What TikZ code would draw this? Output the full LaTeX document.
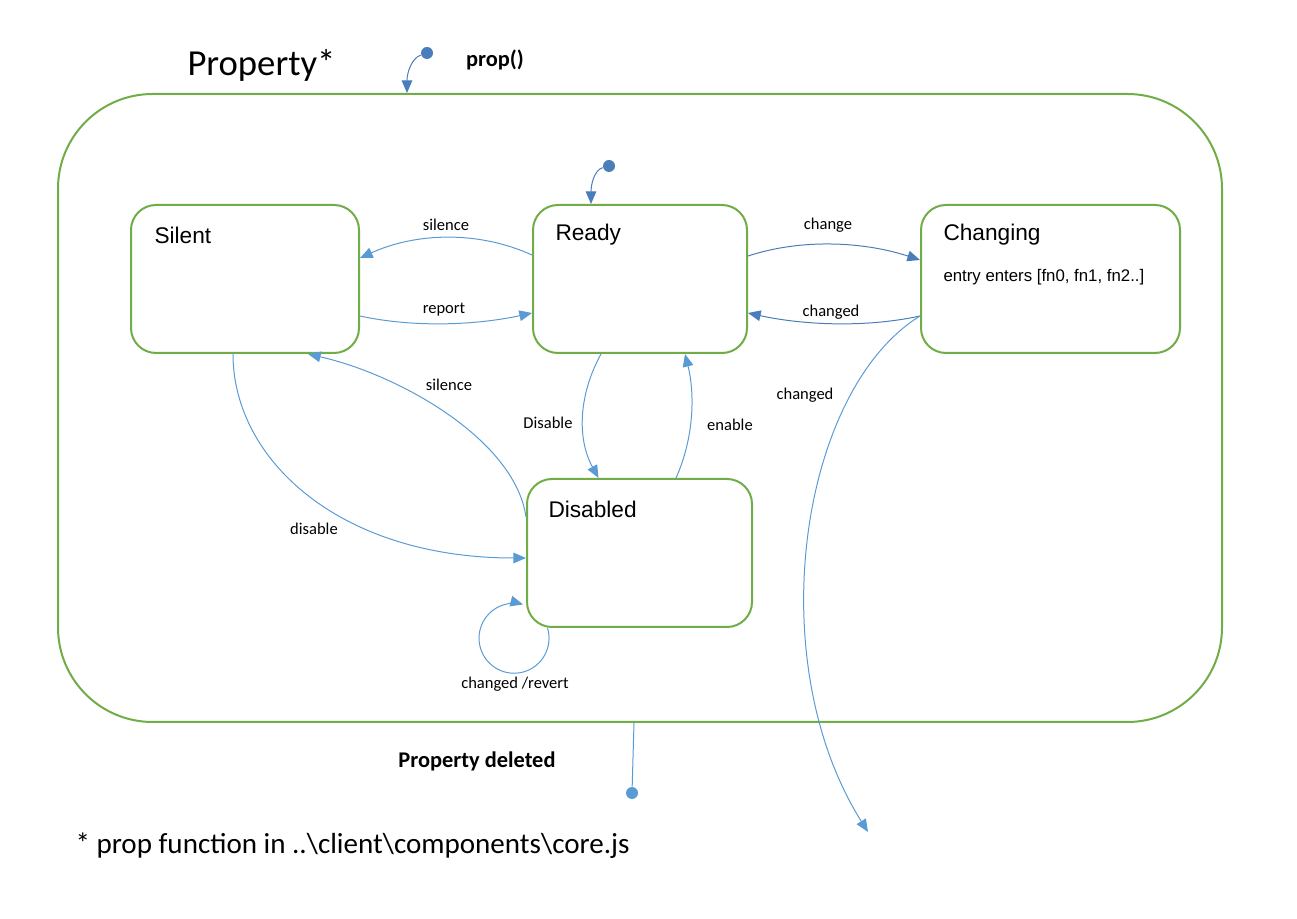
\documentclass[tikz,border=0pt]{standalone}
\usepackage{fontspec}
\setmainfont{Carlito}
\newfontfamily\arialfont{Liberation Sans}
\usetikzlibrary{arrows.meta,positioning,calc}

\definecolor{stategreen}{RGB}{112,173,71}
\definecolor{flowblue}{RGB}{91,155,213}
\definecolor{dotblue}{RGB}{74,126,187}

\tikzset{every picture/.style={line width=0.75pt}}
\tikzset{
  statebox/.style={draw=stategreen, line width=1.5pt, rounded corners=18.75pt, minimum height=111pt, inner sep=0pt},
  outerstate/.style={draw=stategreen, line width=1.5pt, rounded corners=71pt, minimum width=873pt, minimum height=471pt, inner sep=0pt},
  statename/.style={anchor=west, inner sep=0pt, font=\arialfont\fontsize{17}{20}\selectfont},
  flow/.style={draw=flowblue, -{Triangle[length=9.5pt,width=8pt]}},
  darkflow/.style={draw=dotblue, -{Triangle[length=9.5pt,width=8pt]}},
  flowlabel/.style={inner sep=0.75pt, font=\fontsize{12.4}{15}\selectfont},
  boldlabel/.style={inner sep=0.75pt, font=\bfseries\fontsize{16.8}{20}\selectfont},
  initdot/.style={circle, fill=dotblue, minimum size=9pt, inner sep=0pt},
}

\begin{document}
\begin{tikzpicture}[x=0.75pt,y=0.75pt,yscale=-1,xscale=1]
\useasboundingbox (0,0) rectangle (1297,919);

%Outer state
\node[outerstate] (property) at (640,408) {};
\node[anchor=west, inner sep=0pt, font=\fontsize{27.5}{33}\selectfont] (title) at (187,65) {Property*};

%States
\node[statebox, minimum width=171pt] (silent) at (245,279) {};
\node[statebox, minimum width=160.5pt] (ready) at (640,279) {};
\node[statebox, minimum width=194.25pt] (changing) at (1050.5,279) {};
\node[statebox, minimum width=168.75pt] (disabled) at (639.5,553) {};

% Text Node
\node[statename] (silent-name) at ($(silent.north west)+(24,31)$) {Silent};
\node[statename] (ready-name) at ($(ready.north west)+(23,31)$) {Ready};
\node[statename] (changing-name) at ($(changing.north west)+(23,31)$) {Changing};
\node[statename] (disabled-name) at ($(disabled.north west)+(22,31)$) {Disabled};
\node[anchor=west, inner sep=0pt, font=\arialfont\fontsize{12.6}{15}\selectfont] (changing-entry) at ($(changing.north west)+(23,73)$) {entry enters [fn0, fn1, fn2..]};

%Initial and final points
\node[initdot] (init) at (427,53) {};
\node[initdot] (ready-init) at (609,166) {};
\node[initdot, fill=flowblue] (exit) at (632,793) {};
\coordinate (deleted-end) at (868,832);

\draw[darkflow] (init) .. controls (412,58) and (407,72) .. ($(property.north)+(-233,0)$);
\draw[darkflow] (ready-init) .. controls (594,170) and (591,185) .. ($(ready.north)+(-49,0)$);
\draw[flowblue] ($(property.south)+(-6,0)$) -- (exit);
\node[boldlabel] (prop-label) at (495,60) {prop()};
\node[boldlabel] (deleted-label) at (477,761) {Property deleted};

% Connection
\draw[flow] ($(ready.west)+(0,-24)$) .. controls +(-55,-25) and +(55,-25) .. ($(silent.east)+(0,-21)$);
\node[flowlabel] at (446,225) {silence};
\draw[flow] ($(silent.east)+(0,37)$) .. controls +(55,12) and +(-55,12) .. ($(ready.west)+(0,34)$);
\node[flowlabel] at (444,310) {report};
\draw[darkflow] ($(ready.east)+(0,-23)$) .. controls +(55,-18) and +(-55,-18) .. ($(changing.west)+(0,-19)$);
\node[flowlabel] at (828,225) {change};
\draw[darkflow] ($(changing.west)+(0,37)$) .. controls +(-55,12) and +(55,12) .. ($(ready.east)+(0,34)$);
\node[flowlabel] at (831,312) {changed};
\draw[flow] ($(changing.west)+(0,37)$) .. controls (800,390) and (760,660) .. (deleted-end);
\node[flowlabel] at (805,395) {changed};
\draw[flow] ($(ready.south)+(-39,0)$) .. controls +(-22,40) and +(-22,-40) .. ($(disabled.north)+(-41,0)$);
\node[flowlabel] at (548,423) {Disable};
\draw[flow] ($(disabled.north)+(36.5,0)$) .. controls +(18,-40) and +(10,40) .. ($(ready.south)+(45,0)$);
\node[flowlabel] at (730,425) {enable};
\draw[flow] ($(disabled.west)+(0,-36)$) .. controls (515,440) and (400,375) .. ($(silent.south)+(63,0)$);
\node[flowlabel] at (449,385) {silence};
\draw[flow] ($(silent.south)+(-12,0)$) .. controls (233,460) and (340,558) .. ($(disabled.west)+(0,5)$);
\node[flowlabel] at (314,529) {disable};
\draw[flow] ($(disabled.south west)+(21.5,0)$) arc[start angle=-17, end angle=285, radius=35];
\node[flowlabel] at (515,684) {changed /revert};

% Text Node
\node[anchor=west, inner sep=0pt, font=\fontsize{21.8}{26}\selectfont] (note) at (75,846) {* prop function in ..\textbackslash client\textbackslash components\textbackslash core.js};

\end{tikzpicture}
\end{document}
